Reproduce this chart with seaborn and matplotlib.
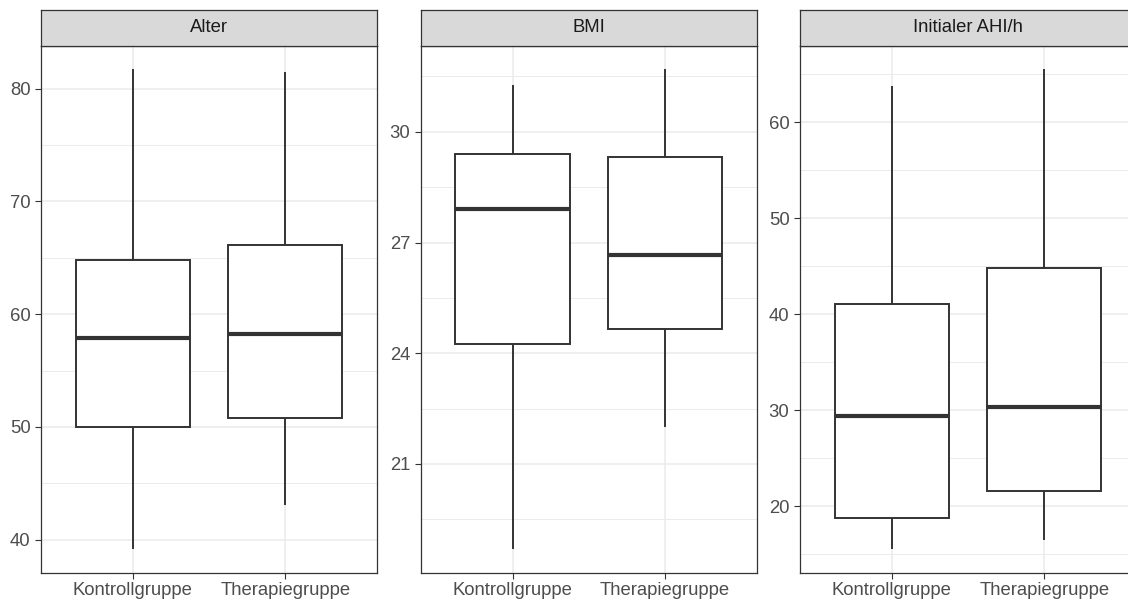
import numpy as np
import pandas as pd
import matplotlib
matplotlib.use("Agg")
import matplotlib.pyplot as plt
from matplotlib.ticker import FixedLocator
import seaborn as sns

# Groups and panel titles
groups = ["Kontrollgruppe", "Therapiegruppe"]
panels = ["Alter", "BMI", "Initialer AHI/h"]

# Five-number summaries per group: min, Q1, median, Q3, max
alter_kontroll = [39.2, 50.0, 57.9, 64.8, 81.7]
alter_therapie = [43.1, 50.8, 58.2, 66.1, 81.5]
bmi_kontroll = [18.70, 24.25, 27.90, 29.41, 31.28]
bmi_therapie = [22.00, 24.66, 26.66, 29.33, 31.69]
ahi_kontroll = [15.6, 18.8, 29.4, 41.1, 63.8]
ahi_therapie = [16.5, 21.6, 30.4, 44.8, 65.5]

# Axis breaks per panel
alter_major = [40, 50, 60, 70, 80]
alter_minor = [45, 55, 65, 75]
bmi_major = [21, 24, 27, 30]
bmi_minor = [19.5, 22.5, 25.5, 28.5, 31.5]
ahi_major = [20, 30, 40, 50, 60]
ahi_minor = [15, 25, 35, 45, 55, 65]

panel_data = [
    (alter_kontroll, alter_therapie, alter_major, alter_minor),
    (bmi_kontroll, bmi_therapie, bmi_major, bmi_minor),
    (ahi_kontroll, ahi_therapie, ahi_major, ahi_minor),
]

sns.set_style("white")
plt.rcParams["font.family"] = ["Liberation Sans", "DejaVu Sans"]

W, H = 1128, 601
fig = plt.figure(figsize=(W / 100, H / 100), dpi=100)

dark = "#333333"
grid_col = "#EBEBEB"
panel_lefts = [41.3, 421.0, 800.3]
panel_w = 335.5
panel_top, panel_bottom = 45.5, 572.7
strip_top = 10.0

for (kontroll, therapie, major, minor), title, left in zip(panel_data, panels, panel_lefts):
    ax = fig.add_axes([left / W, (H - panel_bottom) / H, panel_w / W,
                       (panel_bottom - panel_top) / H])
    df = pd.DataFrame({
        "Gruppe": [groups[0]] * len(kontroll) + [groups[1]] * len(therapie),
        "Wert": kontroll + therapie,
    })
    sns.boxplot(data=df, x="Gruppe", y="Wert", order=groups, ax=ax,
                whis=(0, 100), width=0.75, color="white", saturation=1,
                linecolor=dark, linewidth=1.4, showfliers=False, showcaps=False,
                medianprops=dict(linewidth=3.0, color=dark))
    for art in ax.patches:
        art.set_zorder(3)
    for ln in ax.lines:
        ln.set_zorder(4)

    lo = min(kontroll + therapie)
    hi = max(kontroll + therapie)
    pad = 0.05 * (hi - lo)
    ax.set_ylim(lo - pad, hi + pad)
    ax.set_xlim(-0.6, 1.6)

    ax.yaxis.set_major_locator(FixedLocator(major))
    ax.yaxis.set_minor_locator(FixedLocator(minor))
    ax.set_axisbelow(True)
    ax.grid(True, which="major", axis="both", color=grid_col, linewidth=1.1, zorder=0)
    ax.grid(True, which="minor", axis="y", color=grid_col, linewidth=0.7, zorder=0)

    ax.set_xlabel("")
    ax.set_ylabel("")
    ax.tick_params(axis="both", which="major", length=4.3, width=0.8, color=dark,
                   labelsize=13.3, labelcolor="#4D4D4D", direction="out")
    ax.tick_params(axis="x", pad=2.5)
    ax.tick_params(axis="y", pad=3.5)
    ax.tick_params(which="minor", length=0)
    ax.tick_params(left=True, bottom=True)

    for sp in ax.spines.values():
        sp.set_visible(True)
        sp.set_color(dark)
        sp.set_linewidth(0.9)

    # facet strip
    sax = fig.add_axes([left / W, (H - panel_top) / H, panel_w / W,
                        (panel_top - strip_top) / H])
    sax.set_facecolor("#D9D9D9")
    sax.set_xticks([])
    sax.set_yticks([])
    for sp in sax.spines.values():
        sp.set_visible(True)
        sp.set_color(dark)
        sp.set_linewidth(0.9)
    sax.text(0.5, 0.5, title, ha="center", va="center", fontsize=13.3,
             color="#1A1A1A", transform=sax.transAxes)

fig.savefig("out.png", dpi=100)
